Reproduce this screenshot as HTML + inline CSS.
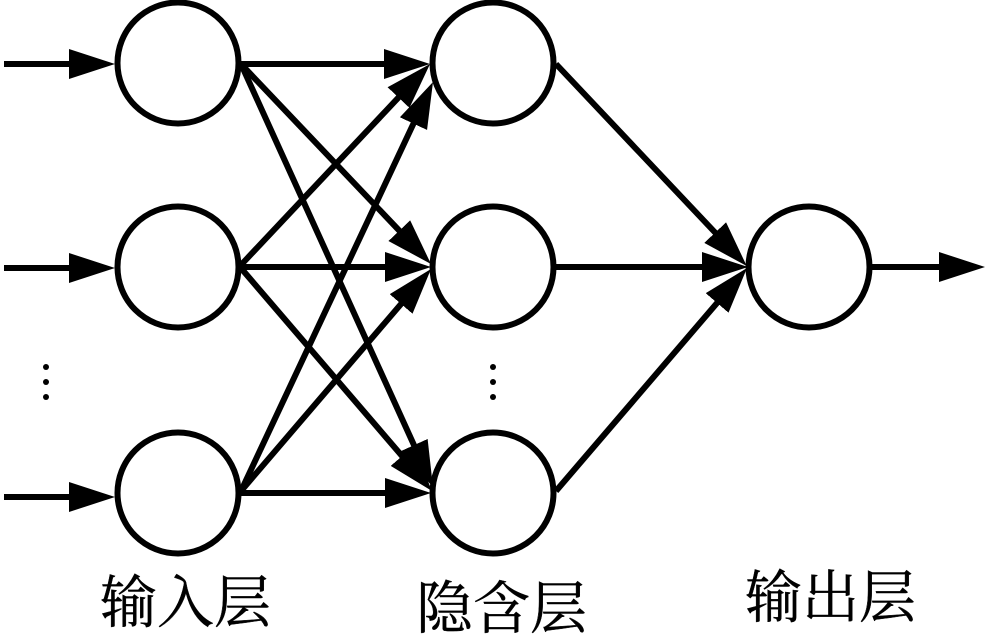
<!DOCTYPE html>
<html><head><meta charset="utf-8"><style>
html,body{margin:0;padding:0;background:#fff}
svg{display:block}
text{font-family:"Liberation Serif","Noto Serif CJK SC",serif;font-size:57px;fill:#000;stroke:#000;stroke-width:.4}
</style></head><body>
<svg width="987" height="636" viewBox="0 0 987 636" xmlns="http://www.w3.org/2000/svg">
<defs><marker id="a" markerUnits="userSpaceOnUse" markerWidth="48" markerHeight="32" refX="26" refY="15" orient="auto"><path d="M0 0L46 15L0 30Z" fill="#000"/></marker></defs>
<g stroke="#000" stroke-width="6" fill="none">
<path d="M4 64H95" marker-end="url(#a)"/>
<path d="M4 268H95" marker-end="url(#a)"/>
<path d="M4 497H95" marker-end="url(#a)"/>
<path d="M241 64H410" marker-end="url(#a)"/>
<path d="M241 64L417.2 249.5" marker-end="url(#a)"/>
<path d="M241 64L424.7 468.8" marker-end="url(#a)"/>
<path d="M240 266L416.3 78.6" marker-end="url(#a)"/>
<path d="M240 267H411" marker-end="url(#a)"/>
<path d="M240 267L419 475.8" marker-end="url(#a)"/>
<path d="M241 491L424.5 100.1" marker-end="url(#a)"/>
<path d="M241 491L418 284.2" marker-end="url(#a)"/>
<path d="M241 493H411" marker-end="url(#a)"/>
<path d="M556 64L733 251.5" marker-end="url(#a)"/>
<path d="M556 267H728" marker-end="url(#a)"/>
<path d="M556 491L734 283.2" marker-end="url(#a)"/>
<path d="M872 267H965" marker-end="url(#a)"/>
</g>
<g stroke="#000" stroke-width="6" fill="#fff">
<circle cx="178" cy="63" r="60.5"/>
<circle cx="178" cy="267" r="60.5"/>
<circle cx="178" cy="493" r="60.5"/>
<circle cx="493" cy="63" r="60.5"/>
<circle cx="493" cy="267" r="60.5"/>
<circle cx="493" cy="493" r="60.5"/>
<circle cx="809" cy="267" r="60.5"/>
</g>
<g fill="#000">
<circle cx="46" cy="367" r="3"/><circle cx="46" cy="382" r="3"/><circle cx="46" cy="397" r="3"/>
<circle cx="493" cy="367" r="3"/><circle cx="493" cy="382" r="3"/><circle cx="493" cy="397" r="3"/>
</g>
<text x="100" y="622">输入层</text>
<text x="416" y="628">隐含层</text>
<text x="745" y="617">输出层</text>
</svg>
</body></html>
